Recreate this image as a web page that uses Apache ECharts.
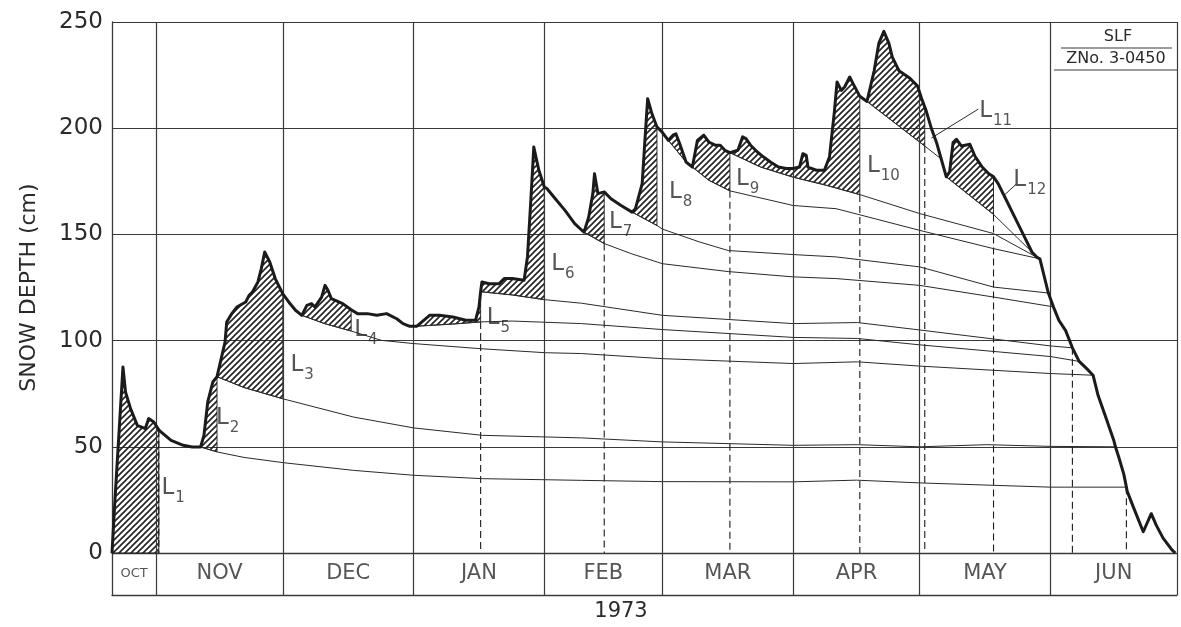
<!DOCTYPE html>
<html>
<head>
<meta charset="utf-8">
<script src="https://cdn.jsdelivr.net/npm/echarts@6/dist/echarts.min.js"></script>
<style>
  html, body { margin: 0; padding: 0; background: #ffffff; }
  #chart { width: 1181px; height: 627px; }
</style>
</head>
<body>
<div id="chart"></div>
<script>
// Days are counted from 1 October 1972 (1 Nov = 31 ... 1 Jul 1973 = 273).
const monthStarts = [31, 61, 92, 123, 151, 182, 212, 243, 273];
const monthNames = ['OCT', 'NOV', 'DEC', 'JAN', 'FEB', 'MAR', 'APR', 'MAY', 'JUN'];
const monthCentres = [25.75, 46, 76.5, 107.5, 137, 166.5, 197, 227.5, 258];
const dayFirst = 20.5;
const dayLast = 273;

// Total snow depth (cm)
const snowDepth = [
  [20.5,0],[21.2,25],[23.1,87.6],[23.7,75.8],[24.9,68],[26.5,60.1],[28.4,58.6],[29.2,63.3],[30.4,61.7],
  [31.6,58],[32.1,57],[34.5,53],[37.4,50.7],[39.5,49.9],[41.5,49.9],[42.3,55.4],[43.2,71.1],[44.4,80.5],
  [45.4,83],[47.3,99.3],[47.7,108.8],[48.9,112.7],[50.1,115.8],[52.2,118.2],[53.0,121.3],[53.8,122.9],
  [55.1,127.6],[55.9,133.9],[56.7,141.7],[57.9,137],[59.2,129.2],[61,122],[62.4,118.2],[64.0,114.3],
  [65.5,111.9],[66.7,116.6],[67.8,117.4],[68.6,115.8],[70.2,120.5],[71.0,126],[71.7,123.7],[72.5,119.8],
  [75.2,117.4],[77.2,114.5],[78.7,112.7],[81.0,112.7],[83.3,111.9],[85.6,112.7],[88.0,110.3],[89.5,108],
  [91.1,106.7],[92.8,106.8],[95.8,111.9],[98.1,111.9],[101.3,111.1],[104.4,109.6],[106.7,109.6],
  [107.5,115.8],[107.9,123],[108.2,127.6],[109.9,126.8],[112.3,126.8],[113.5,129.2],[115.4,129.2],
  [118.2,128.4],[119.0,139.4],[119.8,166],[120.5,191.1],[121.7,180.2],[123,172.3],[123.6,171.6],
  [125.6,166.8],[127.9,161.3],[130.2,155.1],[132.4,151],[133.5,158],[134.5,169.2],[134.9,178.6],
  [135.7,169.2],[137.2,170],[138.8,166.8],[141.1,163.7],[143.8,160.5],[144.6,162.1],[146.2,173.9],
  [146.9,195.9],[147.5,213.9],[148.5,206.9],[149.7,200.6],[150.9,198.2],[152.4,194.3],[153.5,196.7],
  [154.2,197.4],[155.1,192.7],[156.6,184.1],[158.1,181.7],[159.3,194.3],[160.8,196.7],[162.0,193.5],
  [163.5,192],[164.7,192],[165.8,189.6],[167,188.5],[168.9,189.6],[170.0,195.9],[170.8,195.1],
  [171.9,192],[173.5,188.8],[175.0,186.4],[176.6,184.1],[178.5,181.7],[180.4,181],[182,181],
  [183.5,181.7],[184.3,188],[185.1,187.2],[185.5,181.7],[187.5,180.2],[189.4,180.2],[190.6,186.4],
  [191.8,208.4],[192.4,221.8],[193.4,217.8],[194.2,219.4],[195.4,224.1],[196.2,221],[197.8,215],
  [199.5,212.6],[201.2,227],[202.3,239.9],[203.5,245.6],[204.7,239.9],[205.5,233.5],[207.1,227],
  [209.5,223.8],[211.5,219.8],[212.4,214.2],[213.2,210],[213.6,207.7],[214.8,199.7],[216.0,193.2],
  [217.1,185.5],[218.3,177.1],[219.1,179.5],[219.9,193.2],[220.7,194.8],[221.9,191.6],[223.9,192.4],
  [225.1,186.8],[226.7,182],[228.3,178.7],[229.5,177.1],[230.6,173.9],[232.2,167.5],[234.2,159.4],
  [236.6,149.8],[238.6,141.7],[239.8,139.2],[240.5,138.5],[241.3,132],[242.5,122.4],[243.7,115.9],
  [245.0,109.5],[246.6,104.7],[248.2,96.6],[249.8,90.2],[251.9,86.2],[253.1,83.7],[254.3,74.1],
  [256.3,62.8],[258.0,53.1],[258.4,50],[259.2,45.1],[260.4,37],[261.0,31],[261.2,29],[262.8,20.9],
  [265.0,10],[266.9,18.5],[268.1,13],[269.7,7],[271.8,1.5],[272.6,0]
];

// Buried surface of each layer as it settles (cm)
const L1Top = [[41.5,49.9],[45.6,47.5],[51.8,45],[61.2,42.5],[77.8,38.9],[92,36.6],[108.3,35],[131.8,34.2],
  [151,33.6],[182,33.5],[197,34.3],[212,33],[243,31],[261.0,31]];
const L2Top = [[45.4,83],[51.8,77.9],[61.2,72.5],[77.8,64],[92,58.9],[108.3,55.4],[131.8,54.2],[151,52.3],
  [182,50.7],[197.2,51],[212,50],[227.9,51],[243,50.2],[258.4,50]];
const L3Top = [[65.5,111.9],[70.9,108],[77.2,104.5],[84.4,100.1],[92,98.6],[107.8,96.2],[123.2,94.3],
  [131.8,93.9],[151,91.5],[182,89.2],[197.2,90],[212,88],[243,84.5],[253.1,83.7]];
const L4Top = [[92.8,106.8],[101.3,107.8],[107.9,108.8],[115.4,109.2],[131.8,108],[151,105.2],[182,101.5],
  [197.2,101],[212,98],[243,92.5],[249.8,90.2]];
const L5Top = [[107.9,123],[115.4,121.5],[122.9,119.3],[131.8,117.6],[151,111.9],[182,108],[197.2,108.5],
  [212,105],[243,97.5],[248.2,96.6]];
const L6Top = [[132.4,151],[137.2,145.7],[143.5,141],[151,136.2],[166.6,132.5],[182,130],[192.2,129.2],
  [212,126],[229.5,120.5],[243.7,115.9]];
const L7Top = [[143.8,160.5],[149.7,154.2],[151,152.5],[159.7,146.5],[166.6,142.4],[182,140.5],[192.2,139.4],
  [212,134.7],[229.5,125.2],[242.5,122.4]];
const L8Top = [[152.4,194.3],[156.6,184.1],[158.1,181.7],[162,175.5],[167,170.5],[182,163.6],[192.2,162.1],
  [212,151.9],[229.5,143.3],[240.5,138.5]];
const L9Top = [[167,188.5],[174.3,181.7],[181.9,177],[189.9,173.1],[198.2,168.5],[212,159.8],[229.5,150.4],
  [239.8,139.2]];
const L10Top = [[199.5,212.6],[213.2,191.6],[217.1,185.5]];
const L11Top = [[218.3,177.1],[229.5,159.4],[238.6,141.7]];

// New-snow periods: [first day, last day, surface underneath]
const newSnow = [
  [20.5, 31.6, null], [41.5, 45.4, 'L1'], [45.4, 61, 'L2'], [65.5, 77.2, 'L3'],
  [92.8, 107.9, 'L4'], [107.9, 123, 'L5'], [132.4, 137.2, 'L6'], [143.8, 149.7, 'L7'],
  [152.4, 167, 'L8'], [167, 197.8, 'L9'], [199.5, 213.2, 'L10'], [218.3, 229.5, 'L11']
];

// Dashed drop lines: [day, depth at top]
const dropLines = [[31.6,58],[107.9,108.8],[137.2,145.7],[167,170.5],[197.8,168.6],[213.2,191.6],
  [229.5,159.4],[248.2,96.6],[261.0,31]];

// Layer labels: [day, depth, layer number]
const layerLabels = [[35,30.5,1],[47.9,63.4,2],[65.6,88.3,3],[80.7,104.8,4],[112.1,110.4,5],[127.4,135.9,6],
  [141.1,155.7,7],[155.3,169.8,8],[171.2,175.9,9],[203.4,182.1,10],[230,208,11],[238.1,175.4,12]];
const labelLeaders = [[[214.8,195.4],[225.9,209]], [[231.8,168],[234.9,173.7]]];

const yTicks = [0, 50, 100, 150, 200, 250];

const layerTops = { L1: L1Top, L2: L2Top, L3: L3Top, L4: L4Top, L5: L5Top, L6: L6Top,
  L7: L7Top, L8: L8Top, L9: L9Top, L10: L10Top, L11: L11Top };

const INK = '#1b1b1b';
const RULE = '#3a3a3a';
const TEXT = '#2a2a2a';
const FONT = "'DejaVu Sans', 'Noto Sans', sans-serif";

// diagonal hatching tile
function hatchTile() {
  const s = 6;
  const c = document.createElement('canvas');
  c.width = s; c.height = s;
  const g = c.getContext('2d');
  g.strokeStyle = '#222222';
  g.lineWidth = 1.6;
  g.beginPath();
  g.moveTo(-1, s + 1); g.lineTo(s + 1, -1);
  g.moveTo(-1, 1); g.lineTo(1, -1);
  g.moveTo(s - 1, s + 1); g.lineTo(s + 1, s - 1);
  g.stroke();
  return c;
}
const hatchFill = { image: hatchTile(), repeat: 'repeat' };

function valueAt(arr, d) {
  for (let i = 0; i < arr.length - 1; i++) {
    const [x0, y0] = arr[i], [x1, y1] = arr[i + 1];
    if (d >= x0 && d <= x1) return x1 === x0 ? y0 : y0 + (y1 - y0) * (d - x0) / (x1 - x0);
  }
  return d < arr[0][0] ? arr[0][1] : arr[arr.length - 1][1];
}
function slice(arr, a, b) {
  const out = [[a, valueAt(arr, a)]];
  arr.forEach(p => { if (p[0] > a && p[0] < b) out.push(p); });
  out.push([b, valueAt(arr, b)]);
  return out;
}
function hatchOutline(h) {
  const top = slice(snowDepth, h[0], h[1]);
  const bottom = h[2] ? slice(layerTops[h[2]], h[0], h[1]).reverse() : [[h[1], 0], [h[0], 0]];
  return top.concat(bottom);
}

const chart = echarts.init(document.getElementById('chart'), null, { renderer: 'canvas' });

const series = [];

// hatched new-snow areas
series.push({
  type: 'custom', xAxisIndex: 0, yAxisIndex: 0, silent: true, z: 2,
  data: newSnow.map(h => [h[0], h[1]]),
  encode: { x: [0, 1] },
  renderItem: (params, api) => {
    const pts = hatchOutline(newSnow[params.dataIndex]).map(p => api.coord(p));
    return { type: 'polygon', shape: { points: pts },
      style: { fill: hatchFill, stroke: INK, lineWidth: 0.9 } };
  }
});

// dashed drop lines
series.push({
  type: 'custom', xAxisIndex: 0, yAxisIndex: 0, silent: true, z: 3,
  data: dropLines,
  encode: { x: 0, y: 1 },
  renderItem: (params, api) => {
    const d = dropLines[params.dataIndex];
    const p0 = api.coord([d[0], d[1]]), p1 = api.coord([d[0], 0]);
    return { type: 'line', shape: { x1: p0[0], y1: p0[1], x2: p1[0], y2: p1[1] },
      style: { stroke: INK, lineWidth: 1.1, lineDash: [7, 4] } };
  }
});

// settling layer surfaces
Object.keys(layerTops).forEach(k => {
  series.push({
    type: 'line', name: k, xAxisIndex: 0, yAxisIndex: 0, data: layerTops[k],
    showSymbol: false, symbol: 'none', silent: true, z: 4,
    lineStyle: { color: '#2a2a2a', width: 1 }
  });
});

// label leaders
labelLeaders.forEach(seg => {
  series.push({
    type: 'line', xAxisIndex: 0, yAxisIndex: 0, data: seg, symbol: 'none', silent: true, z: 4,
    lineStyle: { color: '#2a2a2a', width: 1 }
  });
});

// total snow depth
series.push({
  type: 'line', name: 'depth', xAxisIndex: 0, yAxisIndex: 0, data: snowDepth,
  symbol: 'none', silent: true, z: 6,
  lineStyle: { color: INK, width: 3, join: 'round' },
  markLine: {
    silent: true, symbol: ['none', 'none'], label: { show: false },
    lineStyle: { color: RULE, width: 1.2, type: 'solid' },
    data: monthStarts.map(d => ({ xAxis: d }))
  }
});

// layer labels
series.push({
  type: 'scatter', xAxisIndex: 0, yAxisIndex: 0, symbolSize: 0, silent: true, z: 7,
  data: layerLabels.map(l => [l[0], l[1], l[2]]),
  label: {
    show: true, position: 'inside',
    formatter: p => '{a|L}{b|' + p.value[2] + '}',
    rich: {
      a: { fontSize: 23, fontFamily: FONT, color: TEXT, lineHeight: 24, verticalAlign: 'middle' },
      b: { fontSize: 15, fontFamily: FONT, color: TEXT, lineHeight: 34, verticalAlign: 'bottom', padding: [0, 0, 0, 1] }
    }
  }
});

// month band
series.push({
  type: 'scatter', xAxisIndex: 1, yAxisIndex: 1, symbolSize: 0, silent: true,
  data: monthCentres.map((c, i) => ({
    value: [c, 0.5],
    label: { fontSize: i === 0 ? 13 : 21, formatter: monthNames[i] }
  })),
  label: { show: true, position: 'inside', color: TEXT, fontFamily: FONT },
  markLine: {
    silent: true, symbol: ['none', 'none'], label: { show: false },
    lineStyle: { color: RULE, width: 1.2, type: 'solid' },
    data: monthStarts.map(d => ({ xAxis: d }))
  }
});

const option = {
  backgroundColor: '#ffffff',
  animation: false,
  grid: [
    { left: 112, right: 4, top: 22, bottom: 74 },
    { left: 112, right: 4, top: 553, height: 42 }
  ],
  xAxis: [
    { type: 'value', gridIndex: 0, min: dayFirst, max: dayLast,
      axisLine: { show: true, onZero: false, lineStyle: { color: RULE, width: 1.3 } },
      axisTick: { show: false }, axisLabel: { show: false }, splitLine: { show: false } },
    { type: 'value', gridIndex: 1, min: dayFirst, max: dayLast,
      axisLine: { show: true, onZero: false, lineStyle: { color: RULE, width: 1.3 } },
      axisTick: { show: false }, axisLabel: { show: false }, splitLine: { show: false } }
  ],
  yAxis: [
    { type: 'value', gridIndex: 0, min: yTicks[0], max: yTicks[yTicks.length - 1], interval: 50,
      name: 'SNOW DEPTH (cm)', nameLocation: 'middle', nameGap: 72, nameRotate: 90,
      nameTextStyle: { fontSize: 22, fontFamily: FONT, color: TEXT },
      axisLine: { show: true, lineStyle: { color: RULE, width: 1.3 } },
      axisTick: { show: false },
      axisLabel: { fontSize: 23, fontFamily: FONT, color: TEXT, margin: 9 },
      splitLine: { show: true, lineStyle: { color: RULE, width: 1.2 } } },
    { type: 'value', gridIndex: 1, min: 0, max: 1,
      axisLine: { show: true, lineStyle: { color: RULE, width: 1.3 } },
      axisTick: { show: false }, axisLabel: { show: false }, splitLine: { show: false } }
  ],
  graphic: [
    { type: 'text', x: 621, y: 612,
      style: { text: '1973', fontSize: 21, fontFamily: FONT, fill: TEXT, align: 'center', verticalAlign: 'middle' } },
    { type: 'text', x: 1118, y: 37,
      style: { text: 'SLF', fontSize: 16, fontFamily: FONT, fill: TEXT, align: 'center', verticalAlign: 'middle' } },
    { type: 'line', shape: { x1: 1061, y1: 48, x2: 1172, y2: 48 }, style: { stroke: RULE, lineWidth: 1.1 } },
    { type: 'text', x: 1116, y: 59,
      style: { text: 'ZNo. 3-0450', fontSize: 16, fontFamily: FONT, fill: TEXT, align: 'center', verticalAlign: 'middle' } },
    { type: 'line', shape: { x1: 1054, y1: 70, x2: 1177, y2: 70 }, style: { stroke: RULE, lineWidth: 1.2 } }
  ],
  series: series
};

chart.setOption(option);
</script>
</body>
</html>
